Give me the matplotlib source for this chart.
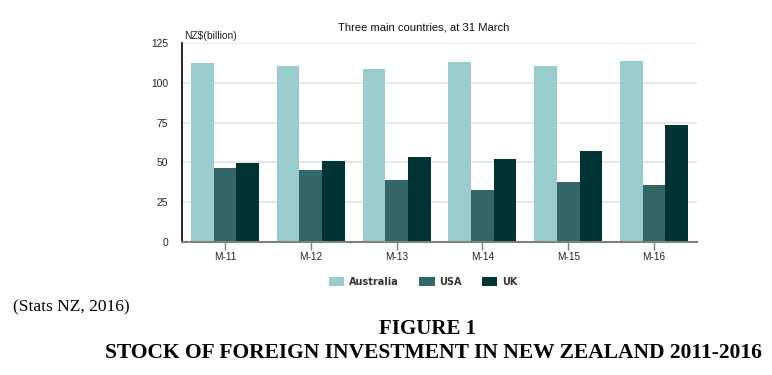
import numpy as np
import matplotlib
matplotlib.use("Agg")
import matplotlib.pyplot as plt
from matplotlib.patches import Patch

# data (NZ$ billion)
years = ["M-11", "M-12", "M-13", "M-14", "M-15", "M-16"]
australia = [112.7, 110.9, 109.0, 113.2, 110.5, 114.0]
usa = [46.4, 45.2, 38.6, 32.7, 37.8, 35.7]
uk = [49.6, 50.6, 53.4, 52.3, 57.4, 73.8]
series_names = ["Australia", "USA", "UK"]
colours = ["#99cccc", "#336666", "#003333"]
yticks = [0, 25, 50, 75, 100, 125]

W, H = 772, 375
fig = plt.figure(figsize=(W / 100, H / 100), dpi=100)

# axes placed in pixel terms
ax = fig.add_axes([182 / W, 133.3 / H, 515 / W, 198.4 / H])

x = np.arange(len(years))
bw = 0.264
for i, (vals, c) in enumerate(zip([australia, usa, uk], colours)):
    ax.bar(x + (i - 1) * bw, vals, width=bw, color=c, zorder=3)

ax.set_xlim(-0.5, len(years) - 0.5)
ax.set_ylim(0, 125)
ax.set_yticks(yticks)
ax.set_xticks(x)
ax.set_xticklabels(years, fontsize=7.2, color="#222222", family="Liberation Sans")
ax.set_yticklabels([str(v) for v in yticks], fontsize=7.4, color="#222222",
                   family="Liberation Sans")
ax.yaxis.grid(True, color="#e4e4e4", linewidth=1.2, zorder=0)
ax.tick_params(axis="y", length=0, pad=10)
ax.tick_params(axis="x", length=5.5, width=1, color="#808080", pad=2)
for s in ["top", "right"]:
    ax.spines[s].set_visible(False)
ax.spines["left"].set_color("black")
ax.spines["left"].set_linewidth(1.2)
ax.spines["bottom"].set_color("#808080")
ax.spines["bottom"].set_linewidth(1.5)
ax.spines["bottom"].set_zorder(4)

fig.text(424 / W, 1 - 27 / H, "Three main countries, at 31 March", ha="center",
         va="center", fontsize=8.1, family="Liberation Sans", color="#111111")
fig.text(184 / W, 1 - 36 / H, "NZ$(billion)", ha="left", va="center",
         fontsize=7.4, family="Liberation Sans", color="#222222")

handles = [Patch(facecolor=c) for c in colours]
fig.legend(handles, series_names, loc="center", bbox_to_anchor=(423.5 / W, 1 - 282 / H),
           ncol=3, frameon=False, handlelength=1.55, handleheight=0.97,
           columnspacing=2.1, handletextpad=0.5,
           prop={"family": "DejaVu Sans", "weight": "bold", "size": 7})
for t in fig.legends[0].get_texts():
    t.set_color("#333333")

fig.text(13 / W, 1 - 307 / H, "(Stats NZ, 2016)", ha="left", va="center",
         fontsize=12.5, family="Liberation Serif")
fig.text(427.5 / W, 1 - 329.5 / H, "FIGURE 1", ha="center", va="center",
         fontsize=15, weight="bold", family="Liberation Serif")
fig.text(433 / W, 1 - 353.5 / H, "STOCK OF FOREIGN INVESTMENT IN NEW ZEALAND 2011-2016",
         ha="center", va="center", fontsize=15.5, weight="bold", family="Liberation Serif")

fig.savefig("out.png", dpi=100)
